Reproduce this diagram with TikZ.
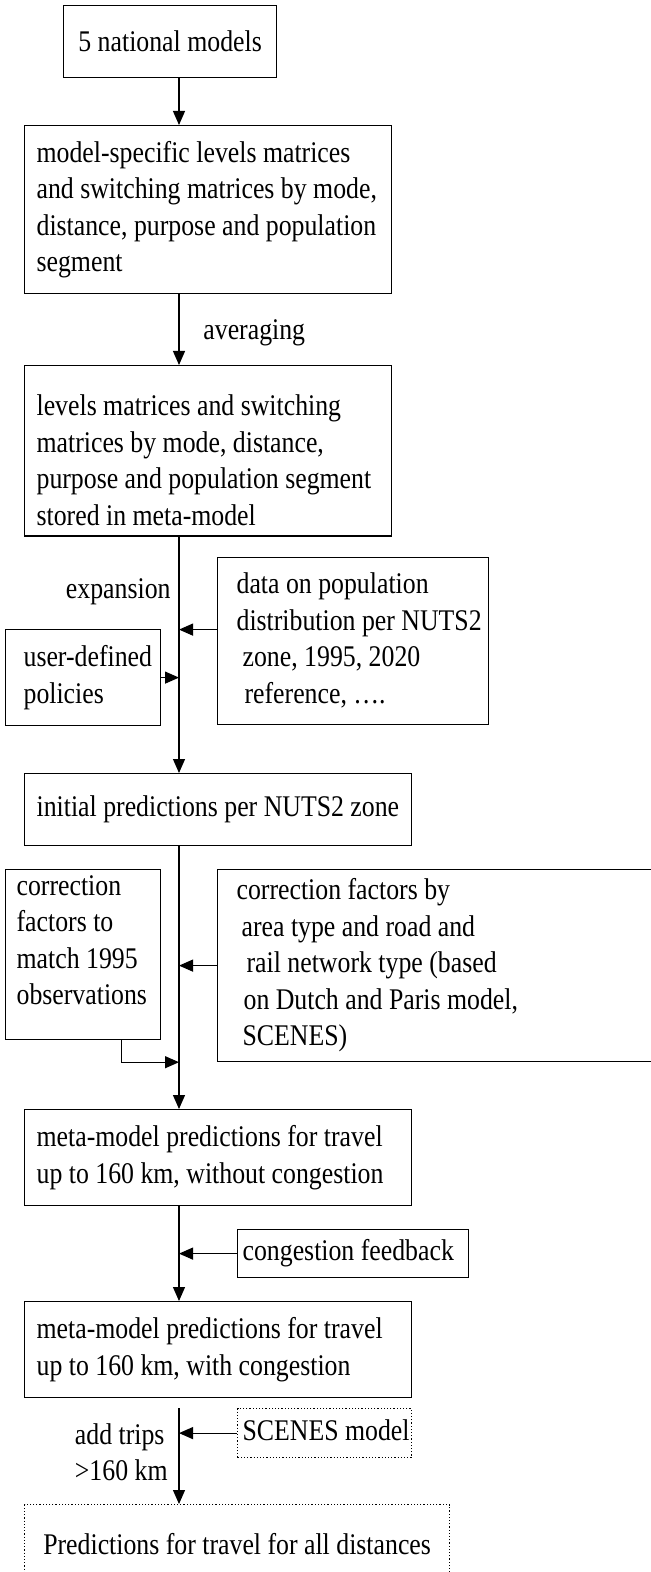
\documentclass[tikz,border=0pt]{standalone}
\usepackage{fontspec}
\setmainfont{Liberation Serif}[FakeStretch=0.86]
\usetikzlibrary{arrows.meta, positioning, calc}

\newcommand{\txtrows}[1]{\noindent\spaceskip=0pt\xspaceskip=0pt\begin{tabular}{@{}l@{}}#1\end{tabular}}

\tikzset{
  box/.style={draw, line width=0.6pt, anchor=north west, align=left, inner ysep=0pt},
  dotbox/.style={box, densely dotted},
  arr/.style={-{Triangle[length=7pt,width=6pt]}, line width=0.6pt},
}

\begin{document}
\begin{tikzpicture}[x=0.5pt, y=-0.5pt, font={\fontsize{15pt}{18.25pt}\selectfont}]
\useasboundingbox (0,0) rectangle (650,1572);
\coordinate (ax) at (179,0);

% main chain
\node[box, minimum width=106.5pt, minimum height=36pt, align=center] (nat) at (63,5) {5 national models};
\node[box, minimum width=183.5pt, minimum height=84pt, text width=171.5pt, inner xsep=6pt] (spec) at (24,125)
  {\txtrows{model-specific levels matrices\\ and switching matrices by mode,\\ distance, purpose and population\\ segment}};
\node[box, minimum width=183.5pt, minimum height=84pt, text width=171.5pt, inner xsep=6pt] (meta) at (24,365)
  {\txtrows{\rule{0pt}{25pt}levels matrices and switching\\ matrices by mode, distance,\\ purpose and population segment\\ stored in meta-model}};
\node[box, minimum width=193.5pt, minimum height=36pt, text width=181.5pt, inner xsep=6pt] (init) at (24,773)
  {\txtrows{initial predictions per NUTS2 zone}};
\node[box, minimum width=193.5pt, minimum height=48pt, text width=181.5pt, inner xsep=6pt] (meta1) at (24,1109)
  {\txtrows{meta-model predictions for travel\\ up to 160 km, without congestion}};
\node[box, minimum width=193.5pt, minimum height=48pt, text width=181.5pt, inner xsep=6pt] (meta2) at (24,1301)
  {\txtrows{meta-model predictions for travel\\ up to 160 km, with congestion}};
\node[dotbox, minimum width=212.5pt, minimum height=39pt, align=center] (final) at (24,1504)
  {Predictions for travel for all distances};

% side inputs
\node[box, minimum width=135.5pt, minimum height=83.5pt, text width=116.5pt, inner xsep=9.5pt] (data) at (217,557)
  {\txtrows{data on population\\ distribution per NUTS2\\ \hspace{3pt}zone, 1995, 2020\\ \hspace{4pt}reference, ….}};
\node[box, minimum width=77.5pt, minimum height=48pt, text width=59.5pt, inner xsep=9pt] (user) at (5,629)
  {\txtrows{user-defined\\ policies}};
\node[box, minimum width=77.5pt, minimum height=84pt, text width=66.5pt, inner xsep=5.5pt] (corrL) at (5,869)
  {\txtrows{correction\\ factors to\\ match 1995\\ observations\\[12pt]}};
\node[box, minimum width=220pt, minimum height=96pt, text width=201pt, inner xsep=9.5pt] (corrR) at (217,869)
  {\txtrows{correction factors by\\ \hspace{2.5pt}area type and road and\\ \hspace{5pt}rail network type (based\\ \hspace{3.5pt}on Dutch and Paris model,\\ \hspace{3pt}SCENES)}};
\node[box, minimum width=115.5pt, minimum height=24pt, text width=110.5pt, inner xsep=2.5pt] (cong) at (237,1229)
  {\txtrows{congestion feedback}};
\node[dotbox, minimum width=87pt, minimum height=24.5pt, text width=82pt, inner xsep=2.5pt] (scenes) at (237,1408)
  {\txtrows{SCENES model}};

% labels
\node[anchor=west, inner sep=0pt] (avg) at (203,333) {averaging};
\node[anchor=east, inner sep=0pt] (expn) at (171,592) {expansion};
\node[anchor=east, inner sep=0pt] (trips) at (168,1455) {\txtrows{add trips\\ >160 km}};

% connectors
\draw[arr] (ax |- nat.south) -- (ax |- spec.north);
\draw[arr] (ax |- spec.south) -- (ax |- meta.north);
\draw[arr] (ax |- meta.south) -- (ax |- init.north);
\coordinate (datain) at ([yshift=5.75pt]data.west);
\draw[arr] (datain) -- (ax |- datain);
\draw[arr] (user.east) -- (ax |- user.east);
\draw[arr] (ax |- init.south) -- (ax |- meta1.north);
\draw[arr] (corrR.west) -- (ax |- corrR.west);
\coordinate (corrLout) at ([xshift=19.25pt]corrL.south);
\draw[arr] (corrLout) |- (ax |- corrR.south);
\draw[arr] (ax |- meta1.south) -- (ax |- meta2.north);
\draw[arr] (cong.west) -- (ax |- cong.west);
\draw[arr] (ax |- scenes.north) -- (ax |- final.north);
\draw[arr] (scenes.west) -- (ax |- scenes.west);
\end{tikzpicture}
\end{document}
